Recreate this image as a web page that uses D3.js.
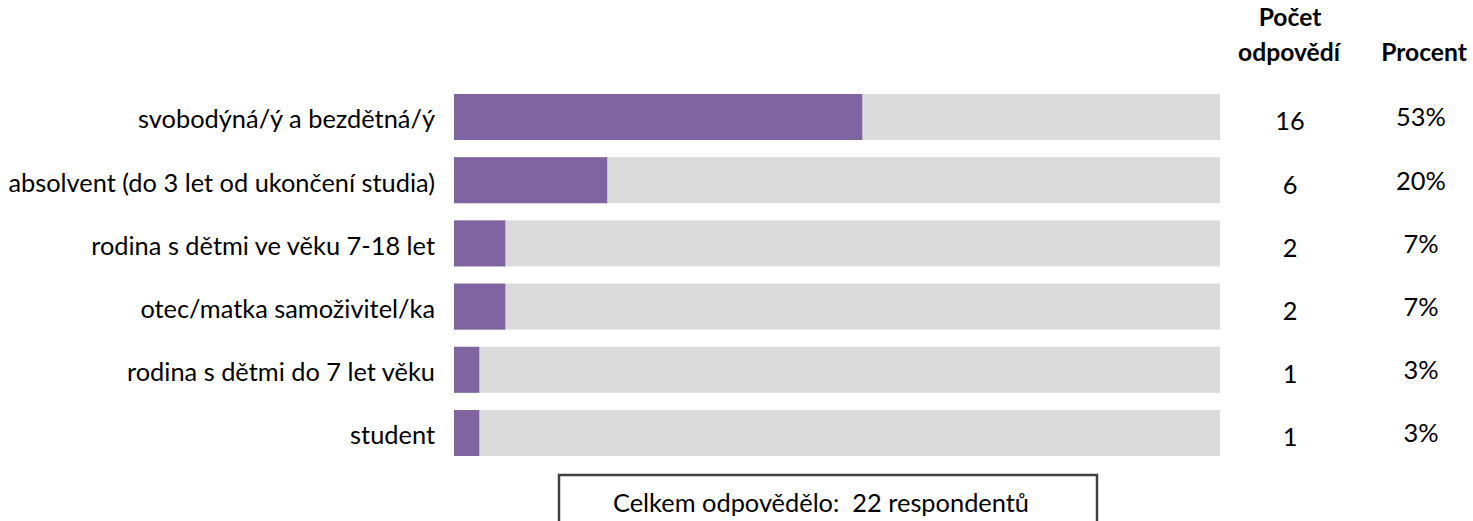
<!DOCTYPE html>
<html>
<head>
<meta charset="utf-8">
<script src="https://cdn.jsdelivr.net/npm/d3@7"></script>
<style>
  body { margin: 0; background: #fff; }
  text { font-family: Lato, "Open Sans", sans-serif; fill: #000; }
</style>
</head>
<body>
<script>
"use strict";

// data
const categories = [
  "svobodýná/ý a bezdětná/ý",
  "absolvent (do 3 let od ukončení studia)",
  "rodina s dětmi ve věku 7-18 let",
  "otec/matka samoživitel/ka",
  "rodina s dětmi do 7 let věku",
  "student"
];
const counts = [16, 6, 2, 2, 1, 1];
const percents = [53.3, 20, 6.7, 6.7, 3.3, 3.3];
const pctLabels = ["53%", "20%", "7%", "7%", "3%", "3%"];
const headers = ["Počet", "odpovědí", "Procent"];
const totalText = "Celkem odpovědělo:  22 respondentů";

const width = 1473, height = 521;

let svg = d3.select("body").append("svg")
    .attr("width", width)
    .attr("height", height);

// pick a font size so the longest label spans about the same width as in the original
function fitSize(txt, target, weight) {
    let t = svg.append("text").style("font-size", "20px").style("font-weight", weight || "normal").text(txt);
    let w = t.node().getComputedTextLength();
    t.remove();
    return 20 * target / w;
}
const fs = fitSize(categories[1], 427);
const hfs = fitSize(headers[1], 102, "bold");

let x = d3.scaleLinear().domain([0, 100]).range([454, 1220]);
let y = d3.scaleBand().domain(d3.range(categories.length))
    .range([94, 456]).paddingInner(0.272).paddingOuter(0);

let rows = svg.append("g").selectAll("g")
    .data(categories)
    .enter().append("g");

// gray track
rows.append("rect")
    .attr("x", x(0))
    .attr("y", (d, i) => y(i))
    .attr("width", x(100) - x(0))
    .attr("height", y.bandwidth())
    .style("fill", "#dbdbdb");

// purple value bar
rows.append("rect")
    .attr("x", x(0))
    .attr("y", (d, i) => y(i))
    .attr("width", (d, i) => x(percents[i]) - x(0))
    .attr("height", y.bandwidth())
    .style("fill", "#8064a2");

// category labels
rows.append("text")
    .attr("x", 435)
    .attr("y", (d, i) => y(i) + y.bandwidth() / 2 + 5)
    .attr("text-anchor", "end")
    .attr("dominant-baseline", "middle")
    .style("font-size", fs + "px")
    .text(d => d);

// count column
rows.append("text")
    .attr("x", 1290)
    .attr("y", (d, i) => y(i) + y.bandwidth() / 2 + 7)
    .attr("text-anchor", "middle")
    .attr("dominant-baseline", "middle")
    .style("font-size", fs + "px")
    .text((d, i) => counts[i]);

// percent column
rows.append("text")
    .attr("x", 1421)
    .attr("y", (d, i) => y(i) + y.bandwidth() / 2 + 3)
    .attr("text-anchor", "middle")
    .attr("dominant-baseline", "middle")
    .style("font-size", fs + "px")
    .text((d, i) => pctLabels[i]);

// column headers
let head = svg.append("g").style("font-weight", "bold").style("font-size", hfs + "px");
head.append("text").attr("x", 1290).attr("y", 26).attr("text-anchor", "middle").text(headers[0]);
head.append("text").attr("x", 1289).attr("y", 61).attr("text-anchor", "middle").text(headers[1]);
head.append("text").attr("x", 1424).attr("y", 61).attr("text-anchor", "middle").text(headers[2]);

// total box
svg.append("rect")
    .attr("x", 559)
    .attr("y", 475)
    .attr("width", 538)
    .attr("height", 60)
    .style("fill", "#fff")
    .style("stroke", "#404040")
    .style("stroke-width", 2.5);
svg.append("text")
    .attr("x", 821)
    .attr("y", 506)
    .attr("text-anchor", "middle")
    .attr("dominant-baseline", "middle")
    .style("white-space", "pre")
    .style("font-size", fs + "px")
    .text(totalText);
</script>
</body>
</html>
